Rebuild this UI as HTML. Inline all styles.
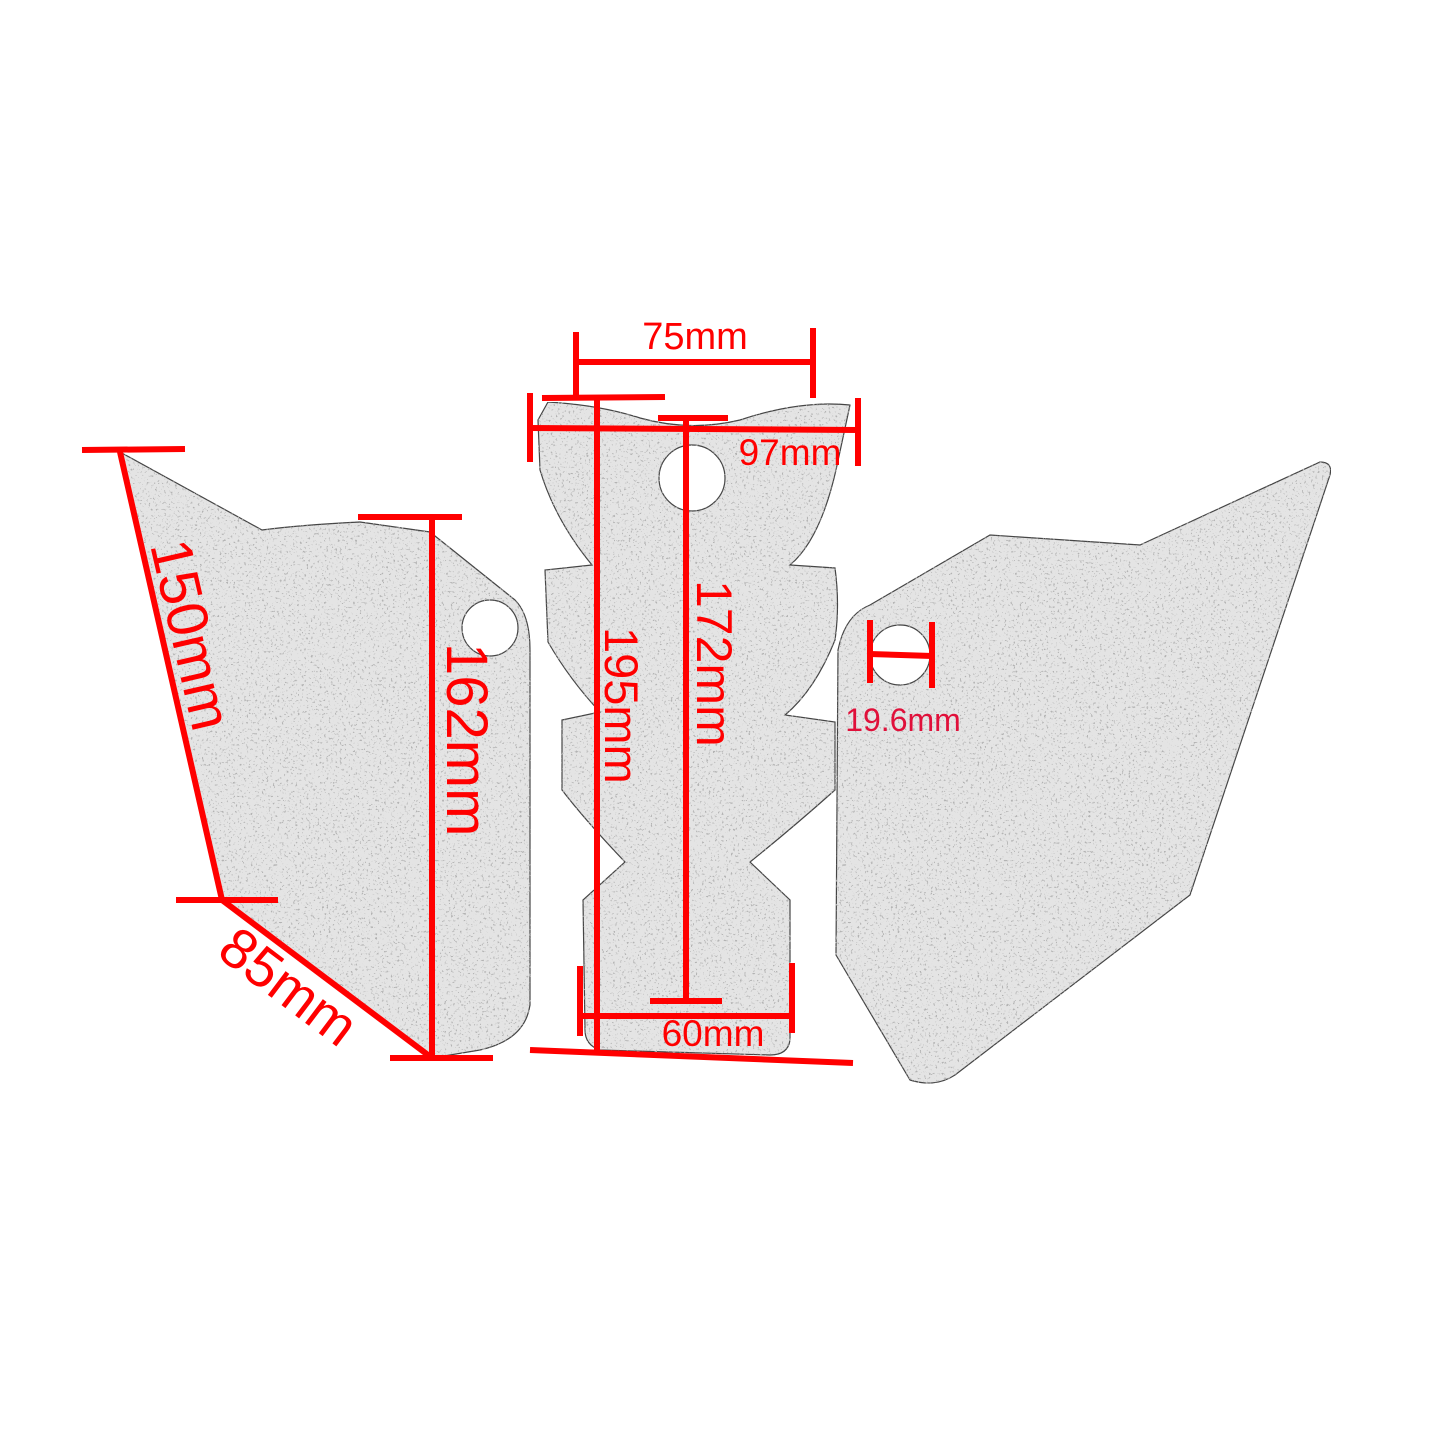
<!DOCTYPE html>
<html><head><meta charset="utf-8"><style>html,body{margin:0;padding:0;background:#fff}svg{display:block}</style></head>
<body>
<svg width="1445" height="1445" viewBox="0 0 1445 1445" xmlns="http://www.w3.org/2000/svg">
<defs>
<filter id="tex" x="0" y="0" width="100%" height="100%">
<feTurbulence type="fractalNoise" baseFrequency="0.45" numOctaves="2" seed="3" result="n"/>
<feColorMatrix in="n" type="matrix" values="0 0 0 0 0.45  0 0 0 0 0.45  0 0 0 0 0.45  0 0 0 9 -5.6" result="s"/>
<feComposite in="s" in2="SourceGraphic" operator="in" result="c"/>
<feMerge><feMergeNode in="SourceGraphic"/><feMergeNode in="c"/></feMerge>
</filter>
</defs>
<g fill="#e4e4e4" stroke="#444" stroke-width="1.2" filter="url(#tex)">
<path fill-rule="evenodd" d="M120 452 L262 530 Q300 525 360 522 L430 532 L515 600 Q530 615 530 650 L530 1005 Q525 1040 480 1050 L432 1058 L222 900 Z M490 628 m-28 0 a28 28 0 1 0 56 0 a28 28 0 1 0 -56 0 Z"/>
<path fill-rule="evenodd" d="M548 402 Q600 405 640 418 Q690 432 740 420 Q800 400 850 405 L836 470 Q820 540 790 565 L835 568 Q840 605 835 640 Q815 690 785 715 L835 722 L835 790 Q790 830 750 862 L790 900 L790 1040 Q788 1055 770 1055 L600 1050 Q585 1045 585 1030 L583 900 L625 862 Q585 820 562 790 L562 720 L600 712 Q570 680 548 642 L545 570 L592 565 Q555 520 540 470 L538 420 Z M692 478 m-33 0 a33 33 0 1 0 66 0 a33 33 0 1 0 -66 0 Z"/>
<path fill-rule="evenodd" d="M838 650 Q845 615 870 605 L990 535 L1140 545 L1320 462 Q1333 462 1330 475 L1190 895 L955 1075 Q935 1088 910 1080 L836 955 Z M900 655 m-30 0 a30 30 0 1 0 60 0 a30 30 0 1 0 -60 0 Z"/>
</g>
<g stroke="#f00" stroke-width="6" fill="none">
<line x1="82" y1="450" x2="185" y2="449"/>
<line x1="120" y1="452" x2="222" y2="900"/>
<line x1="176" y1="900" x2="278" y2="900"/>
<line x1="222" y1="900" x2="432" y2="1058"/>
<line x1="390" y1="1058" x2="493" y2="1058"/>
<line x1="432" y1="517" x2="432" y2="1058"/>
<line x1="358" y1="517" x2="462" y2="517"/>
<line x1="576" y1="332" x2="576" y2="398"/>
<line x1="813" y1="328" x2="813" y2="398"/>
<line x1="576" y1="362" x2="813" y2="362"/>
<line x1="530" y1="393" x2="530" y2="462"/>
<line x1="858" y1="398" x2="858" y2="466"/>
<line x1="530" y1="428" x2="858" y2="430"/>
<line x1="542" y1="398" x2="665" y2="397"/>
<line x1="597" y1="398" x2="597" y2="1050"/>
<line x1="658" y1="418" x2="728" y2="418"/>
<line x1="686" y1="418" x2="686" y2="1000"/>
<line x1="650" y1="1001" x2="722" y2="1001"/>
<line x1="530" y1="1050" x2="853" y2="1063"/>
<line x1="580" y1="966" x2="580" y2="1036"/>
<line x1="792" y1="963" x2="792" y2="1033"/>
<line x1="580" y1="1016" x2="792" y2="1016"/>
<line x1="870" y1="620" x2="870" y2="683"/>
<line x1="932" y1="622" x2="932" y2="688"/>
<line x1="870" y1="654" x2="932" y2="656"/>
</g>
<g fill="#f00" font-family="Liberation Sans, sans-serif">
<text x="695" y="349" font-size="38" text-anchor="middle">75mm</text>
<text x="790" y="465" font-size="37" text-anchor="middle">97mm</text>
<text x="713" y="1046" font-size="37" text-anchor="middle">60mm</text>
<text x="903" y="731" font-size="32" text-anchor="middle" fill="#e0103a">19.6mm</text>
<text font-size="58" transform="translate(150,545) rotate(77)">150mm</text>
<text font-size="58" transform="translate(447,643) rotate(90)">162mm</text>
<text font-size="47" transform="translate(605,627) rotate(90)">195mm</text>
<text font-size="50" transform="translate(697,580) rotate(90)">172mm</text>
<text font-size="56" transform="translate(215,955) rotate(37)">85mm</text>
</g>
</svg>
</body></html>
